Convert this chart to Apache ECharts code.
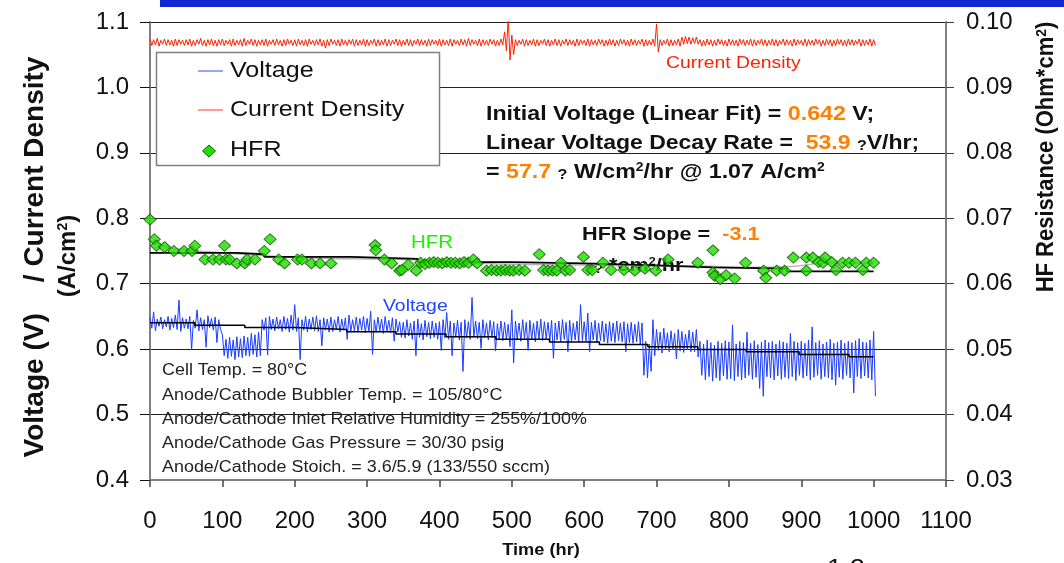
<!DOCTYPE html>
<html>
<head>
<meta charset="utf-8">
<script src="https://cdn.jsdelivr.net/npm/echarts@6/dist/echarts.min.js"></script>
<style>
  html, body { margin: 0; padding: 0; background: #fff; }
  #chart { width: 1064px; height: 563px; }
</style>
</head>
<body>
<div id="chart"></div>
<script>
// Durability test: cell voltage, current density and HFR over 1000 h.

// Sampling step (hours) of the voltage / current records below.
const STEP = 5;

// Voltage envelope per 5 h sample: upper and lower excursion (V).
const voltHi = [
  0.648,0.657,0.646,0.649,0.645,0.650,0.647,0.652,0.675,0.648,
  0.646,0.650,0.644,0.660,0.648,0.645,0.651,0.647,0.649,0.645,
  0.622,0.615,0.618,0.614,0.619,0.616,0.620,0.618,0.624,0.622,
  0.626,0.645,0.648,0.650,0.646,0.649,0.645,0.650,0.647,0.652,
  0.668,0.648,0.645,0.650,0.646,0.649,0.651,0.645,0.648,0.646,
  0.649,0.645,0.650,0.646,0.648,0.652,0.645,0.649,0.647,0.650,
  0.647,0.658,0.645,0.649,0.646,0.650,0.644,0.648,0.646,0.642,
  0.641,0.645,0.640,0.643,0.646,0.639,0.644,0.641,0.643,0.640,
  0.642,0.645,0.656,0.643,0.640,0.644,0.641,0.645,0.642,0.679,
  0.643,0.641,0.645,0.640,0.644,0.642,0.639,0.643,0.641,0.638,
  0.660,0.643,0.640,0.645,0.641,0.644,0.640,0.643,0.646,0.642,
  0.641,0.644,0.640,0.643,0.645,0.641,0.644,0.640,0.643,0.668,
  0.642,0.655,0.641,0.644,0.640,0.643,0.639,0.642,0.640,0.643,
  0.640,0.642,0.639,0.641,0.638,0.642,0.640,0.612,0.608,0.645,
  0.630,0.626,0.632,0.625,0.628,0.624,0.630,0.627,0.623,0.629,
  0.626,0.630,0.612,0.608,0.614,0.610,0.606,0.612,0.609,0.613,
  0.611,0.637,0.608,0.612,0.610,0.626,0.609,0.613,0.607,0.611,
  0.614,0.610,0.612,0.608,0.613,0.611,0.609,0.624,0.612,0.610,
  0.612,0.609,0.614,0.634,0.610,0.613,0.608,0.611,0.615,0.609,
  0.611,0.614,0.609,0.612,0.610,0.613,0.616,0.611,0.610,0.614,0.627
];
const voltLo = [
  0.632,0.628,0.635,0.631,0.634,0.629,0.633,0.630,0.627,0.632,
  0.631,0.599,0.632,0.628,0.630,0.603,0.633,0.629,0.610,0.630,
  0.590,0.586,0.589,0.584,0.588,0.587,0.590,0.589,0.592,0.588,
  0.590,0.629,0.591,0.630,0.628,0.631,0.627,0.630,0.626,0.629,
  0.627,0.584,0.629,0.626,0.630,0.628,0.627,0.605,0.629,0.626,
  0.627,0.630,0.626,0.629,0.615,0.627,0.628,0.626,0.629,0.625,
  0.627,0.592,0.626,0.628,0.624,0.627,0.625,0.612,0.626,0.618,
  0.617,0.620,0.615,0.590,0.618,0.614,0.619,0.616,0.618,0.615,
  0.598,0.617,0.615,0.590,0.618,0.614,0.566,0.617,0.615,0.618,
  0.616,0.601,0.617,0.614,0.618,0.597,0.616,0.613,0.615,0.604,
  0.579,0.615,0.612,0.616,0.598,0.614,0.611,0.615,0.613,0.616,
  0.613,0.586,0.614,0.611,0.615,0.596,0.612,0.614,0.611,0.613,
  0.612,0.596,0.614,0.610,0.613,0.611,0.609,0.612,0.610,0.613,
  0.611,0.596,0.610,0.609,0.611,0.608,0.560,0.556,0.566,0.590,
  0.598,0.594,0.600,0.596,0.599,0.585,0.597,0.595,0.599,0.596,
  0.596,0.588,0.560,0.553,0.558,0.551,0.556,0.552,0.559,0.554,
  0.555,0.552,0.558,0.553,0.556,0.560,0.554,0.557,0.540,0.528,
  0.558,0.556,0.553,0.559,0.554,0.557,0.555,0.558,0.552,0.560,
  0.556,0.559,0.553,0.557,0.560,0.554,0.558,0.556,0.553,0.545,
  0.557,0.554,0.560,0.556,0.533,0.558,0.555,0.559,0.556,0.553,0.528
];

// Current density envelope per 5 h sample (A/cm2).
const curHi = [
  1.074,1.073,1.075,1.072,1.074,1.073,1.072,1.074,1.073,1.072,
  1.073,1.074,1.072,1.073,1.075,1.072,1.073,1.074,1.072,1.073,
  1.074,1.072,1.073,1.074,1.072,1.073,1.075,1.072,1.074,1.073,
  1.072,1.073,1.074,1.072,1.073,1.074,1.072,1.073,1.074,1.072,
  1.073,1.074,1.072,1.073,1.074,1.072,1.073,1.074,1.072,1.073,
  1.074,1.072,1.073,1.074,1.072,1.073,1.074,1.073,1.072,1.074,
  1.073,1.072,1.074,1.073,1.072,1.074,1.073,1.072,1.074,1.073,
  1.072,1.074,1.073,1.072,1.074,1.073,1.072,1.074,1.073,1.072,
  1.074,1.073,1.072,1.074,1.073,1.072,1.074,1.073,1.075,1.073,
  1.072,1.074,1.073,1.072,1.074,1.073,1.072,1.074,1.085,1.107,
  1.080,1.073,1.072,1.074,1.073,1.072,1.074,1.073,1.072,1.074,
  1.073,1.072,1.074,1.073,1.072,1.074,1.073,1.072,1.074,1.073,
  1.072,1.074,1.073,1.072,1.074,1.073,1.072,1.074,1.073,1.072,
  1.074,1.073,1.072,1.074,1.073,1.072,1.074,1.073,1.072,1.074,
  1.097,1.073,1.072,1.074,1.073,1.072,1.074,1.077,1.078,1.077,
  1.076,1.077,1.073,1.072,1.074,1.073,1.072,1.074,1.073,1.072,
  1.074,1.073,1.072,1.074,1.073,1.072,1.074,1.073,1.072,1.074,
  1.073,1.072,1.074,1.073,1.072,1.074,1.073,1.072,1.074,1.073,
  1.072,1.074,1.073,1.072,1.074,1.073,1.072,1.074,1.073,1.072,
  1.074,1.073,1.072,1.074,1.073,1.072,1.074,1.073,1.072,1.074,1.073
];
const curLo = [
  1.064,1.065,1.063,1.066,1.064,1.065,1.063,1.064,1.066,1.064,
  1.065,1.063,1.064,1.066,1.064,1.063,1.065,1.064,1.063,1.065,
  1.064,1.066,1.063,1.064,1.065,1.063,1.064,1.066,1.064,1.063,
  1.065,1.064,1.063,1.066,1.064,1.065,1.063,1.064,1.066,1.064,
  1.063,1.065,1.064,1.063,1.066,1.064,1.065,1.063,1.060,1.064,
  1.066,1.064,1.063,1.065,1.064,1.066,1.063,1.064,1.065,1.063,
  1.064,1.066,1.063,1.064,1.065,1.063,1.064,1.066,1.064,1.063,
  1.065,1.064,1.063,1.066,1.064,1.065,1.063,1.064,1.066,1.064,
  1.063,1.065,1.064,1.063,1.066,1.064,1.065,1.063,1.064,1.066,
  1.064,1.063,1.065,1.064,1.066,1.063,1.064,1.065,1.056,1.042,
  1.050,1.064,1.066,1.063,1.064,1.065,1.063,1.064,1.066,1.064,
  1.063,1.065,1.064,1.063,1.066,1.064,1.065,1.063,1.064,1.066,
  1.064,1.063,1.065,1.064,1.066,1.063,1.064,1.065,1.063,1.064,
  1.066,1.064,1.063,1.065,1.064,1.066,1.063,1.064,1.065,1.063,
  1.054,1.064,1.066,1.063,1.064,1.065,1.063,1.066,1.067,1.066,
  1.067,1.066,1.063,1.064,1.065,1.063,1.064,1.066,1.064,1.063,
  1.065,1.064,1.063,1.066,1.064,1.065,1.063,1.064,1.066,1.064,
  1.063,1.065,1.064,1.063,1.066,1.064,1.065,1.063,1.064,1.066,
  1.064,1.063,1.065,1.064,1.066,1.063,1.064,1.065,1.063,1.064,
  1.066,1.064,1.063,1.065,1.064,1.066,1.063,1.064,1.065,1.063,1.064
];

// Stepwise linear-fit levels of the voltage: [start hour, V].
const voltFitSteps = [
  [0,0.6404],[62,0.6366],[131,0.6330],[200,0.6300],[272,0.6265],[340,0.6230],
  [409,0.6190],[478,0.6150],[552,0.6110],[621,0.6070],[688,0.6035],[757,0.5995],
  [824,0.5959],[897,0.5920],[966,0.5883],[1000,0.5883]
];

// HFR measurements: [hour, Ohm*cm2].
const hfrPoints = [
  [0,0.0698],[6,0.0668],[9,0.0658],[20,0.0656],[33,0.0650],[47,0.0650],[58,0.0650],
  [62,0.0658],[76,0.0637],[87,0.0637],[96,0.0637],[103,0.0658],[105,0.0637],[110,0.0637],
  [120,0.0631],[131,0.0631],[134,0.0637],[145,0.0637],[158,0.0650],[166,0.0668],
  [178,0.0637],[186,0.0631],[204,0.0637],[210,0.0637],[223,0.0631],[235,0.0631],
  [250,0.0631],[311,0.0659],[312,0.0651],[324,0.0637],[334,0.0631],[345,0.0620],
  [348,0.0621],[357,0.0629],[368,0.0620],[374,0.0632],[380,0.0630],[386,0.0632],
  [392,0.0633],[398,0.0632],[404,0.0631],[410,0.0633],[416,0.0632],[422,0.0632],
  [428,0.0631],[434,0.0633],[440,0.0632],[447,0.0637],[452,0.0631],[465,0.0620],
  [472,0.0621],[479,0.0620],[485,0.0620],[491,0.0621],[497,0.0620],[502,0.0620],
  [510,0.0621],[518,0.0620],[538,0.0645],[544,0.0621],[550,0.0620],[556,0.0620],
  [562,0.0620],[568,0.0632],[574,0.0620],[580,0.0621],[599,0.0641],[605,0.0621],
  [611,0.0621],[626,0.0632],[637,0.0621],[655,0.0621],[670,0.0620],[684,0.0623],
  [699,0.0620],[716,0.0637],[757,0.0632],[778,0.0651],[778,0.0617],[780,0.0612],
  [788,0.0607],[796,0.0613],[808,0.0608],[823,0.0632],[848,0.0620],[851,0.0609],
  [866,0.0620],[877,0.0620],[889,0.0640],[907,0.0620],[907,0.0640],[916,0.0640],
  [924,0.0633],[930,0.0632],[933,0.0640],[942,0.0633],[948,0.0621],[957,0.0632],
  [966,0.0632],[975,0.0632],[985,0.0621],[990,0.0632],[1000,0.0632]
];

// Running average of HFR: [hour, Ohm*cm2].
const hfrAverage = [
  [6,0.0667],[20,0.0657],[50,0.0652],[90,0.0648],[130,0.0645],[170,0.0642],
  [230,0.0639],[280,0.0638],[350,0.0637],[420,0.0634],[480,0.0630],[560,0.0629],
  [640,0.0628],[700,0.0627],[760,0.0627],[820,0.0625],[880,0.0626],[940,0.0632],
  [1000,0.0631]
];

// Stepwise linear-fit levels of HFR: [start hour, Ohm*cm2].
const hfrFitSteps = [
  [0,0.0647],[120,0.0645],[158,0.0641],[278,0.0638],[370,0.0633],[500,0.0631],
  [600,0.0628],[700,0.0625],[777,0.0623],[880,0.0619],[1000,0.0619]
];

// Axis ranges and tick spacing.
const xRange = [0, 1100, 100];
const leftRange = [0.4, 1.1, 0.1];
const rightRange = [0.03, 0.10, 0.01];

// Fit results quoted on the chart.
const fitInitialVoltage = '0.642';
const fitDecayRate = '53.9';
const fitPowerDecay = '57.7';
const fitCurrent = '1.07';
const hfrSlope = '-3.1';

// Operating conditions.
const conditions = [
  'Cell Temp. = 80\u00b0C',
  'Anode/Cathode Bubbler Temp. = 105/80\u00b0C',
  'Anode/Cathode Inlet Relative Humidity = 255%/100%',
  'Anode/Cathode Gas Pressure = 30/30 psig',
  'Anode/Cathode Stoich. = 3.6/5.9 (133/550 sccm)'
];

const FONT = '"Liberation Sans", Arial, Helvetica, sans-serif';
const SX = 1.14; // horizontal stretch of the lettering

// Turn an upper/lower envelope into a dense zig-zag trace.
function zigzag(hi, lo) {
  const out = [];
  hi.forEach((h, i) => {
    out.push([i * STEP, h]);
    out.push([i * STEP + STEP / 2, lo[i]]);
  });
  return out;
}

function txt(x, y, text, opts) {
  opts = opts || {};
  return {
    type: 'text', x: x, y: y, z: opts.z || 20,
    rotation: opts.rotation || 0,
    scaleX: opts.scaleX || 1, scaleY: opts.scaleY || 1,
    silent: true,
    style: {
      text: text,
      font: opts.font || ('16px ' + FONT),
      fill: opts.fill || '#111',
      align: opts.align || 'left', textAlign: opts.align || 'left',
      verticalAlign: opts.va || 'middle', textVerticalAlign: opts.va || 'middle',
      rich: opts.rich
    }
  };
}

const ORANGE = '#ff8000';
function boldRich(size) {
  return {
    o: { fill: ORANGE, font: 'bold ' + size + 'px ' + FONT },
    s: { font: 'bold ' + Math.round(size * 0.58) + 'px ' + FONT, verticalAlign: 'top', fill: '#111' },
    q: { font: 'bold ' + Math.round(size * 0.68) + 'px ' + FONT, verticalAlign: 'bottom', fill: '#111' }
  };
}

const graphics = [
  // banner strip along the top edge
  { type: 'rect', z: 30, shape: { x: 160, y: 0, width: 904, height: 7 }, style: { fill: '#1028d0' } },

  // legend
  { type: 'rect', z: 15, shape: { x: 156.5, y: 52.5, width: 283, height: 113 },
    style: { fill: '#fff', stroke: '#808080', lineWidth: 1.5 } },
  { type: 'line', z: 16, shape: { x1: 198, y1: 71, x2: 223, y2: 71 }, style: { stroke: '#4a6af5', lineWidth: 1.2 } },
  { type: 'line', z: 16, shape: { x1: 198, y1: 110, x2: 223, y2: 110 }, style: { stroke: '#ff5a45', lineWidth: 1.2 } },
  { type: 'polygon', z: 16, shape: { points: [[209, 145], [215.5, 151], [209, 157], [202.5, 151]] },
    style: { fill: '#22dd00', stroke: '#0e5a00', lineWidth: 1 } },
  txt(230, 71, 'Voltage', { font: '22px ' + FONT, scaleX: SX }),
  txt(230, 110, 'Current Density', { font: '22px ' + FONT, scaleX: SX }),
  txt(230, 150, 'HFR', { font: '22px ' + FONT, scaleX: SX }),

  // series captions
  txt(666, 63, 'Current Density', { font: '17px ' + FONT, fill: '#ff2200', scaleX: SX }),
  txt(411, 243, 'HFR', { font: '18px ' + FONT, fill: '#22ee00', scaleX: SX }),
  txt(383, 306, 'Voltage', { font: '17px ' + FONT, fill: '#2244ff', scaleX: SX }),

  // fit results
  txt(486, 114, 'Initial Voltage (Linear Fit) = {o|' + fitInitialVoltage + '} V;',
    { font: 'bold 20px ' + FONT, scaleX: 1.16, rich: boldRich(20) }),
  txt(486, 143, 'Linear Voltage Decay Rate =  {o|' + fitDecayRate + '} {q|?}V/hr;',
    { font: 'bold 20px ' + FONT, scaleX: 1.15, rich: boldRich(20) }),
  txt(486, 172, '= {o|' + fitPowerDecay + '} {q|?} W/cm{s|2}/hr @ ' + fitCurrent + ' A/cm{s|2}',
    { font: 'bold 20px ' + FONT, scaleX: 1.16, rich: boldRich(20) }),
  txt(582, 235, 'HFR Slope =  {o|' + hfrSlope + '}',
    { font: 'bold 19px ' + FONT, scaleX: SX, rich: boldRich(19) }),
  txt(585, 266, '{q|??} *cm{s|2}/hr',
    { font: 'bold 19px ' + FONT, scaleX: SX, rich: boldRich(19), z: 1 }),

  // axis titles
  txt(35, 257, 'Voltage (V)    / Current Density',
    { font: 'bold 28px ' + FONT, rotation: Math.PI / 2, align: 'center' }),
  txt(68, 256, '(A/cm{s|2})',
    { font: 'bold 24px ' + FONT, rotation: Math.PI / 2, align: 'center',
      rich: { s: { font: 'bold 14px ' + FONT, verticalAlign: 'top', fill: '#111' } } }),
  txt(1046, 157, 'HF Resistance (Ohm*cm{s|2})',
    { font: 'bold 22px ' + FONT, rotation: Math.PI / 2, align: 'center', scaleY: 1.08,
      rich: { s: { font: 'bold 14px ' + FONT, verticalAlign: 'top', fill: '#111' } } }),
  txt(541, 551, 'Time (hr)', { font: 'bold 16px ' + FONT, align: 'center', scaleX: SX }),
  txt(846, 557, '1.2', { font: '24px ' + FONT, align: 'center', va: 'top', scaleX: SX })
];

conditions.forEach((line, i) => {
  graphics.push(txt(162, 371 + i * 24.2, line, { font: '16px ' + FONT, fill: '#222', scaleX: 1.12, z: 5 }));
});

const chart = echarts.init(document.getElementById('chart'), null, { renderer: 'canvas' });

chart.setOption({
  animation: false,
  backgroundColor: '#fff',
  grid: { left: 150, right: 118, top: 22, bottom: 83 },
  xAxis: {
    type: 'value', min: xRange[0], max: xRange[1], interval: xRange[2],
    axisLine: { show: true, lineStyle: { color: '#808080', width: 2 } },
    axisTick: { show: true, length: 7, lineStyle: { color: '#444', width: 1.5 } },
    axisLabel: { fontSize: 24, fontFamily: FONT, color: '#111', margin: 29,
      formatter: v => String(Math.round(v)) },
    splitLine: { show: false }
  },
  yAxis: [
    {
      type: 'value', position: 'left', min: leftRange[0], max: leftRange[1], interval: leftRange[2],
      axisLine: { show: true, lineStyle: { color: '#808080', width: 2 } },
      axisTick: { show: true, length: 10, lineStyle: { color: '#111', width: 1 } },
      axisLabel: { fontSize: 24, fontFamily: FONT, color: '#111', margin: 21,
        formatter: v => v.toFixed(1) },
      splitLine: { show: true, lineStyle: { color: '#222', width: 1 } }
    },
    {
      type: 'value', position: 'right', min: rightRange[0], max: rightRange[1], interval: rightRange[2],
      axisLine: { show: true, lineStyle: { color: '#808080', width: 2 } },
      axisTick: { show: true, length: 8, lineStyle: { color: '#444', width: 1 } },
      axisLabel: { fontSize: 24, fontFamily: FONT, color: '#111', margin: 20,
        formatter: v => v.toFixed(2) },
      splitLine: { show: false }
    }
  ],
  series: [
    {
      name: 'Current Density', type: 'line', yAxisIndex: 0, z: 3,
      data: zigzag(curHi, curLo), symbol: 'none',
      lineStyle: { color: '#ff2200', width: 1 }
    },
    {
      name: 'Voltage', type: 'line', yAxisIndex: 0, z: 3,
      data: zigzag(voltHi, voltLo), symbol: 'none',
      lineStyle: { color: '#1a3cff', width: 1 }
    },
    {
      name: 'Voltage fit', type: 'line', yAxisIndex: 0, z: 4, step: 'end',
      data: voltFitSteps, symbol: 'none',
      lineStyle: { color: '#000', width: 1.5 }
    },
    {
      name: 'HFR average', type: 'line', yAxisIndex: 1, z: 4, smooth: true,
      data: hfrAverage, symbol: 'none',
      lineStyle: { color: '#b4b4b4', width: 1.5 }
    },
    {
      name: 'HFR fit', type: 'line', yAxisIndex: 1, z: 4, step: 'end',
      data: hfrFitSteps, symbol: 'none',
      lineStyle: { color: '#000', width: 1.8 }
    },
    {
      name: 'HFR', type: 'scatter', yAxisIndex: 1, z: 6,
      data: hfrPoints, symbol: 'diamond', symbolSize: [12, 11],
      itemStyle: { color: '#22dd00', borderColor: '#0e5a00', borderWidth: 1 }
    }
  ],
  graphic: graphics
});
</script>
</body>
</html>
